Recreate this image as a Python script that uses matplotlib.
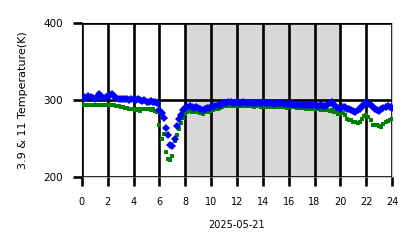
import numpy as np
import matplotlib.pyplot as plt

# 10-minute samples, 0h .. 24h
hours = np.arange(145) / 6.0

bt39 = [303, 304, 303, 305, 304, 303,
        302, 304, 308, 305, 303, 304,
        305, 306, 308, 305, 303, 302,
        301, 302, 301, 302, 300, 301,
        301, 300, 302, 300, 299, 300,
        298, 297, 299, 297, 298, 296,
        287, 283, 277, 264, 254, 242,
        241, 250, 266, 275, 281, 287,
        290, 291, 292, 291, 290, 291,
        290, 289, 287, 289, 290, 290,
        291, 292, 292, 293, 294, 295,
        296, 296, 297, 297, 296, 296,
        297, 296, 296, 297, 296, 296,
        296, 296, 296, 296, 296, 296,
        296, 296, 296, 296, 296, 295,
        296, 296, 296, 296, 295, 295,
        295, 295, 295, 294, 295, 294,
        294, 294, 293, 293, 294, 293,
        293, 292, 292, 293, 292, 292,
        293, 296, 297, 293, 291, 290,
        289, 291, 291, 289, 288, 287,
        286, 285, 287, 289, 292, 294,
        297, 295, 293, 291, 289, 287,
        286, 288, 290, 291, 292, 291,
        290]

bt11 = [294, 294, 294, 293, 294, 294,
        293, 293, 294, 293, 293, 294,
        294, 293, 294, 293, 292, 292,
        291, 291, 290, 290, 289, 289,
        288, 287, 289, 286, 288, 288,
        289, 288, 287, 288, 286, 284,
        267, 250, 256, 233, 223, 222,
        228, 247, 255, 263, 270, 277,
        282, 284, 286, 285, 284, 285,
        284, 283, 282, 284, 285, 285,
        286, 287, 288, 289, 290, 291,
        292, 292, 292, 292, 292, 292,
        292, 292, 292, 292, 292, 292,
        292, 292, 291, 292, 292, 291,
        291, 291, 291, 292, 291, 291,
        291, 291, 291, 291, 291, 290,
        291, 291, 291, 291, 290, 290,
        290, 290, 289, 289, 290, 289,
        289, 288, 288, 287, 288, 287,
        287, 286, 287, 285, 284, 282,
        282, 283, 280, 276, 274, 274,
        272, 271, 270, 272, 276, 279,
        281, 278, 274, 268, 267, 268,
        266, 265, 269, 271, 273, 274,
        275]

xticks = list(range(0, 25, 2))
yticks = [200, 300, 400]

fig = plt.figure(figsize=(4.18, 2.48), dpi=100)
ax = fig.add_axes([0.196, 0.286, 0.742, 0.621])

ax.axvspan(8, 20, color="#d8d8d8", zorder=0)
ax.plot(hours, bt11, "s", color="green", markersize=3, markeredgewidth=0, zorder=3)
ax.plot(hours, bt39, "D", color="blue", markersize=3.8, markeredgewidth=0, zorder=3)

ax.set_xlim(0, 24)
ax.set_ylim(200, 400)
ax.set_xticks(xticks)
ax.set_yticks(yticks)
ax.grid(True, color="black", linewidth=1.9, zorder=2)
ax.set_axisbelow(False)
ax.tick_params(axis="both", length=6.5, width=1.9, color="black")
ax.tick_params(axis="x", labelsize=7, pad=8)
ax.tick_params(axis="y", labelsize=7.5, pad=7)
for s in ax.spines.values():
    s.set_color("#cccccc")
    s.set_linewidth(1)

ax.set_xlabel("2025-05-21", fontsize=7, labelpad=9)
ax.set_ylabel("3.9 & 11 Temperature(K)", fontsize=8, labelpad=11)

fig.savefig("out.png", dpi=100)
